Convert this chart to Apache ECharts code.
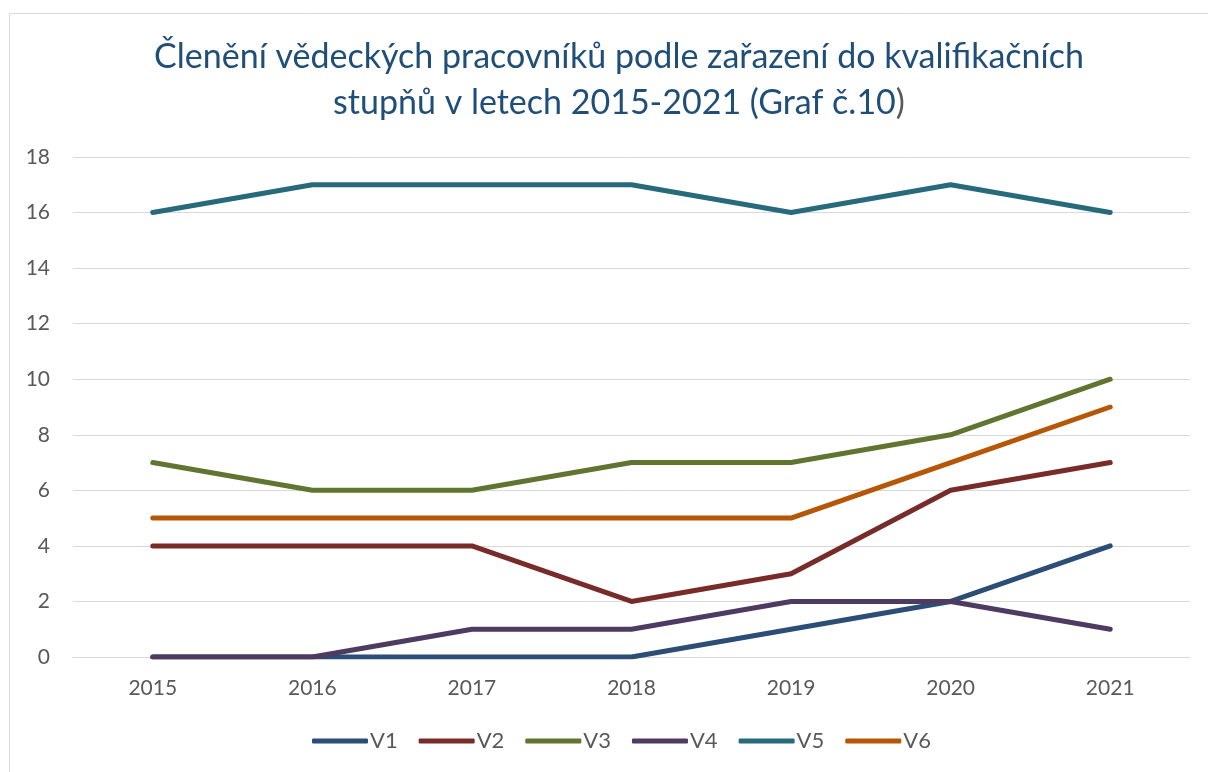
<!DOCTYPE html>
<html><head><meta charset="utf-8">
<script src="https://cdn.jsdelivr.net/npm/echarts@6/dist/echarts.min.js"></script>
<style>html,body{margin:0;padding:0;background:#fff}#c{width:1208px;height:772px}</style>
</head><body><div id="c"></div>
<script>
const categories = ['2015','2016','2017','2018','2019','2020','2021'];
const seriesNames = ['V1','V2','V3','V4','V5','V6'];
const V1 = [0,0,0,0,1,2,4];
const V2 = [4,4,4,2,3,6,7];
const V3 = [7,6,6,7,7,8,10];
const V4 = [0,0,1,1,2,2,1];
const V5 = [16,17,17,17,16,17,16];
const V6 = [5,5,5,5,5,7,9];
const colors = ['#2C4D75','#772C2A','#5F7530','#4D3B62','#276A7C','#B65708'];
const values = [V1,V2,V3,V4,V5,V6];

const chart = echarts.init(document.getElementById('c'));
const font = 'Lato, "Open Sans", sans-serif';
chart.setOption({
  animation:false,
  color: colors,
  graphic:[{type:'rect',shape:{x:9.5,y:13.5,width:1400,height:1000},style:{fill:'none',stroke:'#D9D9D9',lineWidth:1},silent:true}],
  title:{
    text:'Členění vědeckých pracovníků podle zařazení do kvalifikačních\nstupňů v letech 2015-2021 (Graf č.10{g|)}',
    left:614, textAlign:'center', top:29,
    textStyle:{fontFamily:font,fontSize:34,fontWeight:'normal',color:'#1F4E79',lineHeight:46,
      rich:{g:{fontFamily:font,fontSize:34,color:'#595959',lineHeight:46}}}
  },
  legend:{
    top:725, left:307, itemWidth:56, itemHeight:5, itemGap:21,
    icon:'roundRect',
    textStyle:{fontFamily:font,fontSize:22,color:'#595959',padding:[0,0,0,-3]},
    data: seriesNames
  },
  grid:{left:73,right:18,top:157,bottom:115},
  xAxis:{type:'category',data:categories,boundaryGap:true,
    axisLine:{lineStyle:{color:'#D9D9D9'}},axisTick:{show:false},
    axisLabel:{fontFamily:font,fontSize:21,color:'#595959',margin:21}},
  yAxis:{type:'value',min:0,max:18,interval:2,
    axisLine:{show:false},axisTick:{show:false},
    splitLine:{lineStyle:{color:'#D9D9D9',width:1}},
    axisLabel:{fontFamily:font,fontSize:21,color:'#595959',margin:23}},
  series: seriesNames.map((n,i)=>({
    name:n,type:'line',data:values[i],symbol:'none',
    lineStyle:{width:5,color:colors[i],cap:'round',join:'round'},
    itemStyle:{color:colors[i]}
  }))
});
</script></body></html>
